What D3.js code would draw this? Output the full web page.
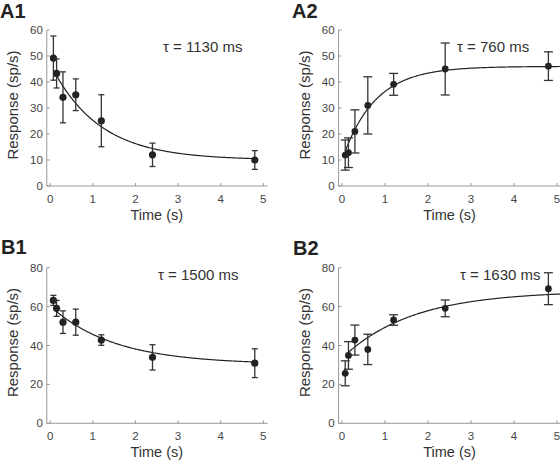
<!DOCTYPE html>
<html><head><meta charset="utf-8">
<script src="https://cdn.jsdelivr.net/npm/d3@7"></script>
<style>body{margin:0;background:#fff}svg{display:block}</style>
</head><body>
<svg id="c" width="560" height="463"></svg>
<script>
// ---- data ----
const times = [0.075, 0.15, 0.3, 0.6, 1.2, 2.4, 4.8];
const panelNames = ["A1", "A2", "B1", "B2"];
const tauLabels = ["τ = 1130 ms", "τ = 760 ms", "τ = 1500 ms", "τ = 1630 ms"];
const a1Mean = [49.2, 43.3, 34.1, 35.1, 25.1, 12.0, 10.0];
const a1Err  = [8.5, 5.6, 9.8, 6.1, 10.0, 4.5, 3.6];
const a2Mean = [11.9, 12.8, 21.0, 31.0, 39.1, 45.0, 46.1];
const a2Err  = [5.8, 5.7, 8.3, 11.0, 4.2, 10.0, 5.5];
const b1Mean = [63.2, 59.1, 52.0, 52.0, 42.8, 33.9, 30.9];
const b1Err  = [2.6, 4.1, 5.8, 6.7, 2.7, 6.5, 7.4];
const b2Mean = [25.7, 34.9, 42.8, 38.0, 53.1, 59.1, 69.2];
const b2Err  = [6.4, 7.1, 7.7, 7.8, 2.7, 4.3, 8.2];
// exponential fits: y = offset + amp * exp(-t/tau)
const fitTau    = [1.13, 0.76, 1.5, 1.63];
const fitOffset = [10.0, 46.0, 30.3, 68.0];
const fitAmp    = [37.0, -36.0, 30.0, -34.5];
const fitStart  = [0.15, 0.075, 0.15, 0.15];
const fitEnd    = [4.8, 5.1, 4.8, 5.1];
const yMaxes = [60, 60, 80, 80];
const yTicksA = [0, 10, 20, 30, 40, 50, 60];
const yTicksB = [0, 20, 40, 60, 80];
const xTicks = [0, 1, 2, 3, 4, 5];

const means = [a1Mean, a2Mean, b1Mean, b2Mean];
const errs = [a1Err, a2Err, b1Err, b2Err];

// ---- layout ----
const svg = d3.select("#c");
const font = "'Liberation Sans', Arial, sans-serif";
const layout = [
  {x0: 50.2, x5: 263.3, yTop: 30, yBot: 186, lab: [0, 18], ylabX: 18, tau: [163, 52], cap: 3, r: 3.6},
  {x0: 342, x5: 557, yTop: 30, yBot: 186, lab: [292, 18], ylabX: 310, tau: [457, 52], cap: 4.5, r: 3.4},
  {x0: 50.2, x5: 263.3, yTop: 267.7, yBot: 423.3, lab: [1, 253.5], ylabX: 18, tau: [158, 280], cap: 3, r: 3.6},
  {x0: 342, x5: 557, yTop: 267.7, yBot: 423.3, lab: [293, 254.5], ylabX: 310, tau: [460, 280], cap: 4.5, r: 3.4}
];

panelNames.forEach((name, i) => {
  const L = layout[i];
  const x = d3.scaleLinear().domain([0, 5]).range([L.x0, L.x5]);
  const y = d3.scaleLinear().domain([0, yMaxes[i]]).range([L.yBot, L.yTop]);
  const g = svg.append("g");
  const xMin = -0.08, xMax = 5.1;

  // spines
  g.append("line").attr("x1", x(xMin)).attr("x2", x(xMin)).attr("y1", y(0)).attr("y2", y(yMaxes[i]))
    .attr("stroke", "#999").attr("stroke-width", 1);
  g.append("line").attr("x1", x(xMin)).attr("x2", x(xMax)).attr("y1", y(0)).attr("y2", y(0))
    .attr("stroke", "#999").attr("stroke-width", 1);

  const yt = i < 2 ? yTicksA : yTicksB;
  // y ticks (inward)
  yt.forEach(v => {
    g.append("line").attr("x1", x(xMin)).attr("x2", x(xMin) + 3).attr("y1", y(v)).attr("y2", y(v))
      .attr("stroke", "#999");
    g.append("text").attr("x", x(xMin) - 4).attr("y", y(v) + 4).attr("text-anchor", "end")
      .attr("font-family", font).attr("font-size", 11.5).attr("fill", "#444").text(v);
  });
  xTicks.forEach(v => {
    g.append("line").attr("x1", x(v)).attr("x2", x(v)).attr("y1", y(0)).attr("y2", y(0) - 3)
      .attr("stroke", "#999");
    g.append("text").attr("x", x(v)).attr("y", y(0) + 16.5).attr("text-anchor", "middle")
      .attr("font-family", font).attr("font-size", 11.5).attr("fill", "#444").text(v);
  });

  // axis titles
  g.append("text").attr("x", (x(0) + x(5)) / 2).attr("y", y(0) + 34).attr("text-anchor", "middle")
    .attr("font-family", font).attr("font-size", 14.5).attr("fill", "#333").text("Time (s)");
  const yc = (y(0) + y(yMaxes[i])) / 2 - 3;
  g.append("text").attr("transform", `translate(${L.ylabX},${yc}) rotate(-90)`).attr("text-anchor", "middle")
    .attr("font-family", font).attr("font-size", 15).attr("fill", "#333").text("Response (sp/s)");

  // panel label
  svg.append("text").attr("x", L.lab[0]).attr("y", L.lab[1]).attr("font-family", font)
    .attr("font-size", 20).attr("font-weight", "bold").attr("fill", "#222").text(name);

  // tau label
  g.append("text").attr("x", L.tau[0]).attr("y", L.tau[1]).attr("font-family", font)
    .attr("font-size", 15).attr("fill", "#333").text(tauLabels[i]);

  // fit curve
  const curve = d3.range(fitStart[i], fitEnd[i] + 1e-9, 0.02).map(t => [t, fitOffset[i] + fitAmp[i] * Math.exp(-t / fitTau[i])]);
  g.append("path").datum(curve)
    .attr("d", d3.line().x(d => x(d[0])).y(d => y(d[1])))
    .attr("fill", "none").attr("stroke", "#222").attr("stroke-width", 1.2);

  // error bars and points
  times.forEach((t, k) => {
    const m = means[i][k], e = errs[i][k];
    g.append("line").attr("x1", x(t)).attr("x2", x(t)).attr("y1", y(m - e)).attr("y2", y(m + e))
      .attr("stroke", "#333").attr("stroke-width", 1.3);
    [m - e, m + e].forEach(v => {
      g.append("line").attr("x1", x(t) - L.cap).attr("x2", x(t) + L.cap).attr("y1", y(v)).attr("y2", y(v))
        .attr("stroke", "#333").attr("stroke-width", 1.3);
    });
    g.append("circle").attr("cx", x(t)).attr("cy", y(m)).attr("r", L.r).attr("fill", "#222");
  });
});
</script>
</body></html>
